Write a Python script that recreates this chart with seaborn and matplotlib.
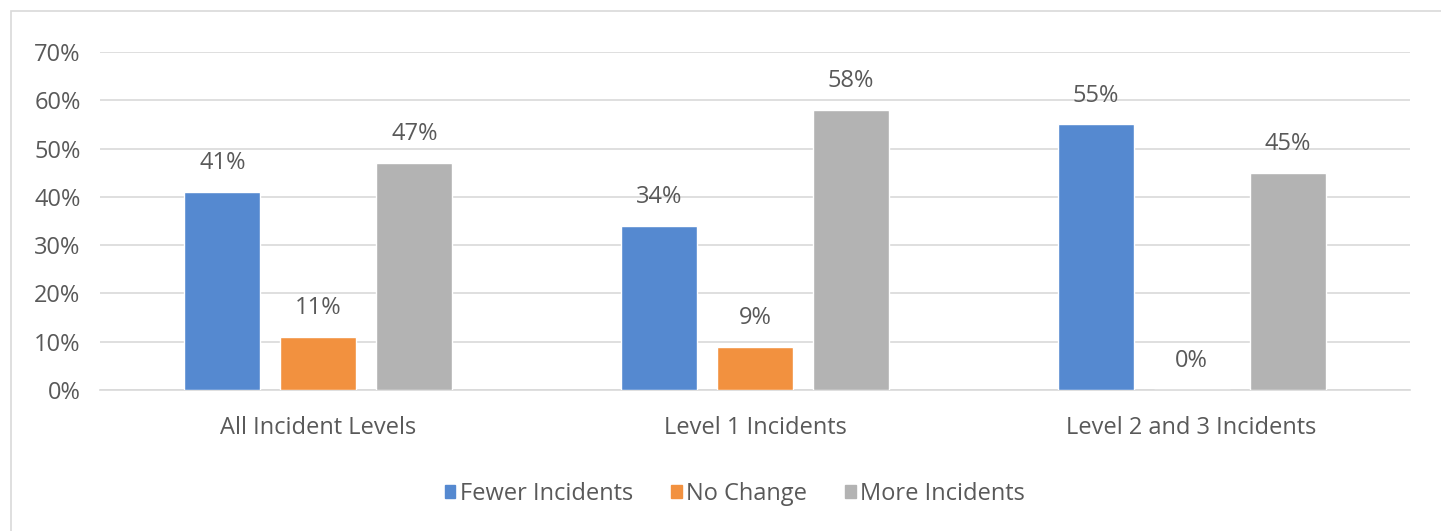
import matplotlib
matplotlib.use("Agg")
import matplotlib.pyplot as plt
import matplotlib.patches as mpatches
import matplotlib.ticker as mticker
import pandas as pd
import seaborn as sns

categories = ["All Incident Levels", "Level 1 Incidents", "Level 2 and 3 Incidents"]
series     = ["Fewer Incidents", "No Change", "More Incidents"]
fewer      = [0.41, 0.34, 0.55]
no_change  = [0.11, 0.09, 0.00]
more       = [0.47, 0.58, 0.45]
colors     = ["#5589D0", "#F2913F", "#B3B3B3"]
text_color = "#595959"

rows = []
for name, vals in zip(series, [fewer, no_change, more]):
    for cat, v in zip(categories, vals):
        rows.append({"category": cat, "series": name, "value": v})
df = pd.DataFrame(rows)

sns.set_style("white")
plt.rcParams["font.family"] = ["Open Sans", "DejaVu Sans"]

fig = plt.figure(figsize=(14.41, 5.31), dpi=100)
ax = fig.add_axes([100 / 1441, 1 - 390 / 531, 1310 / 1441, 338 / 531])

sns.barplot(data=df, x="category", y="value", hue="series", hue_order=series,
            palette=colors, width=0.66, gap=0.21, saturation=1,
            legend=False, ax=ax, zorder=3)

for container in ax.containers:
    ax.bar_label(container, labels=[f"{b.get_height():.0%}" for b in container],
                 padding=12, fontsize=17, color=text_color)

ax.set_ylim(0, 0.7)
ax.set_xlim(-0.5, 2.5)
ax.yaxis.set_major_locator(mticker.MultipleLocator(0.1))
ax.yaxis.set_major_formatter(mticker.PercentFormatter(1.0, decimals=0))
ax.grid(axis="y", color="#D9D9D9", linewidth=1.2, zorder=0)
ax.set_axisbelow(True)
for s in ["top", "right", "left"]:
    ax.spines[s].set_visible(False)
ax.spines["bottom"].set_color("#D9D9D9")
ax.spines["bottom"].set_linewidth(1.2)
ax.tick_params(axis="both", length=0, labelsize=17, labelcolor=text_color)
ax.tick_params(axis="x", pad=19)
ax.tick_params(axis="y", pad=14)
ax.set_xlabel("")
ax.set_ylabel("")

handles = [mpatches.Patch(color=c, label=n) for c, n in zip(colors, series)]
fig.legend(handles=handles, loc="center", bbox_to_anchor=(735 / 1441, 1 - 494 / 531),
           ncol=3, frameon=False, fontsize=17, labelcolor=text_color,
           handlelength=0.45, handleheight=0.45, handletextpad=0.2, columnspacing=1.6)

frame = mpatches.Rectangle((11 / 1441, -0.1), 1.2, 1 - 11 / 531 + 0.1,
                           transform=fig.transFigure, fill=False,
                           edgecolor="#D9D9D9", linewidth=1.2)
fig.patches.append(frame)

fig.savefig("out.png", dpi=100)
